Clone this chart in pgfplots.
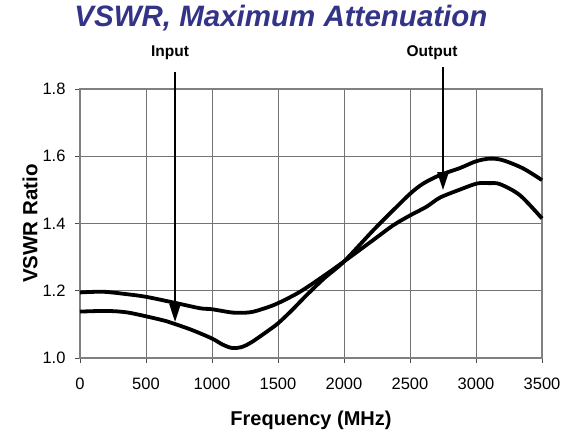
\documentclass[border=0pt]{standalone}
\usepackage{fontspec}
\setmainfont{Liberation Sans}
\usepackage{pgfplots}
\pgfplotsset{compat=1.18}
\usetikzlibrary{arrows.meta}
\definecolor{titleblue}{RGB}{51,51,135}

% Input port (dips to 1.03 near 1150 MHz)
\pgfplotstableread{
f     v
0     1.138
200   1.140
350   1.136
500   1.124
650   1.110
720   1.101
850   1.083
1000  1.058
1080  1.040
1150  1.030
1220  1.032
1300  1.047
1439  1.085
1500  1.103
1600  1.140
1717  1.187
1850  1.237
2000  1.287
2222  1.380
2374  1.440
2505  1.490
2601  1.519
2727  1.544
2879  1.565
3000  1.585
3106  1.593
3205  1.588
3356  1.564
3500  1.529
}\inputdata

% Output port
\pgfplotstableread{
f     v
0     1.195
177   1.197
350   1.190
500   1.182
720   1.164
909   1.148
1000  1.145
1160  1.135
1290  1.136
1400  1.148
1500  1.163
1667  1.197
1850  1.245
2000  1.287
2222  1.351
2374  1.395
2505  1.425
2626  1.450
2727  1.477
2879  1.501
3008  1.519
3100  1.520
3182  1.517
3333  1.484
3500  1.415
}\outputdata

\begin{document}
\begin{tikzpicture}[x=1pt,y=1pt]
\path[use as bounding box] (-80,-78) rectangle (497,358);
\begin{axis}[
  scale only axis,
  width=462pt, height=269pt,
  xmin=0, xmax=3500,
  ymin=1.0, ymax=1.8,
  xtick={0,500,1000,1500,2000,2500,3000,3500},
  ytick={1.0,1.2,1.4,1.6,1.8},
  tick align=outside,
  tick pos=left,
  major tick length=5pt,
  tick style={black!70, line width=0.8pt},
  grid=major,
  major grid style={black!55, line width=0.8pt},
  axis line style={black!50, line width=1.2pt},
  clip=false,
  ticklabel style={font=\fontsize{16.5}{19}\selectfont},
  xticklabel style={yshift=-11pt},
  yticklabel style={xshift=-6pt},
  /pgf/number format/assume math mode=true,
  x tick label style={/pgf/number format/.cd, set thousands separator={}, fixed},
  y tick label style={/pgf/number format/.cd, fixed, fixed zerofill, precision=1},
  xlabel={Frequency (MHz)},
  ylabel={VSWR Ratio},
  xlabel style={font=\fontsize{20}{24}\selectfont\bfseries, at={(axis description cs:0.5,0)}, anchor=center, yshift=-62pt},
  ylabel style={font=\fontsize{20.5}{24}\selectfont\bfseries, at={(axis description cs:-0.108,0.5)}, anchor=center},
]
\addplot[black, line width=3.8pt, smooth] table[x=f, y=v] {\inputdata};
\addplot[black, line width=3.8pt, smooth] table[x=f, y=v] {\outputdata};

\draw[black, line width=2.3pt, -{Triangle[width=11pt,length=18pt]}]
  (axis cs:720,1.85) -- (axis cs:720,1.107);
\draw[black, line width=2.3pt, -{Triangle[width=11pt,length=18pt]}]
  (axis cs:2750,1.865) -- (axis cs:2750,1.499);
\node[font=\fontsize{15.5}{18}\selectfont\bfseries] at (axis cs:682,1.907) {Input};
\node[font=\fontsize{15.5}{18}\selectfont\bfseries] at (axis cs:2667,1.907) {Output};
\end{axis}
\node[font=\fontsize{29.5}{34}\selectfont\bfseries\itshape, text=titleblue] at (201,340) {VSWR, Maximum Attenuation};
\end{tikzpicture}
\end{document}
